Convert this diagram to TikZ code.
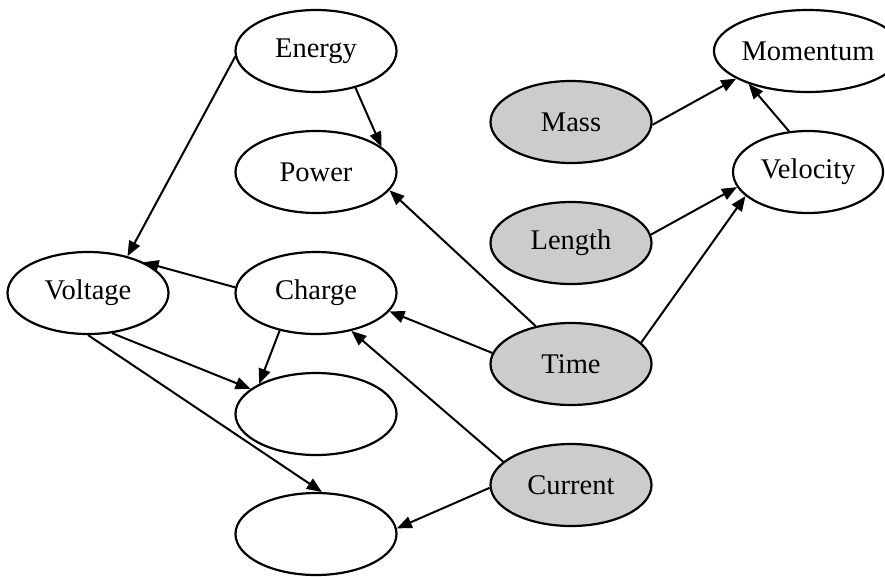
\documentclass[tikz,border=0pt]{standalone}
\usepackage{fontspec}
\setmainfont{Liberation Serif}
\usetikzlibrary{shapes.geometric,arrows.meta}
\begin{document}
\begin{tikzpicture}[x=1pt,y=-1pt,
  var/.style={ellipse,draw=black,line width=2.2pt,fill=white,minimum width=161pt,minimum height=82pt,inner sep=0pt,
    font=\fontsize{28.5}{34}\selectfont},
  given/.style={var,fill=black!20},
  edge/.style={line width=2pt,-{Triangle[length=15pt,width=12pt]}}]
\useasboundingbox (0,0) rectangle (885,576);
\clip (0,0) rectangle (885,576);
\node[var] (energy) at (316,51) {Energy};
\node[var] (power) at (316,172) {Power};
\node[var] (voltage) at (88,293) {Voltage};
\node[var] (charge) at (316,293) {Charge};
\node[var] (e1) at (316,414) {};
\node[var] (e2) at (316,534) {};
\node[given] (mass) at (571,122) {Mass};
\node[given] (length) at (571,243) {Length};
\node[given] (time) at (571,364) {Time};
\node[given] (current) at (571,485) {Current};
\node[var,minimum width=150pt] (momentum) at (808,51) {Momentum};
\node[var,minimum width=150pt] (velocity) at (808,172) {Velocity};
\draw[edge] (energy.184) -- (voltage.43);
\draw[edge] (energy.-43) -- (power.21);
\draw[edge] (time.133) -- (power.-14);
\draw[edge] (charge.176) -- (voltage.29);
\draw[edge] (time.172) -- (charge.-14);
\draw[edge] (current.161) -- (charge.-47);
\draw[edge] (voltage.-59) -- (e1.159);
\draw[edge] (charge.226) -- (e1.152);
\draw[edge] (voltage.-90) -- (e2.82);
\draw[edge] (current.182) -- (e2.4);
\draw[edge] (mass.-2) -- (momentum.201);
\draw[edge] (velocity.115) -- (momentum.209);
\draw[edge] (length.6) -- (velocity.192);
\draw[edge] (time.17) -- (velocity.201);
\end{tikzpicture}
\end{document}
